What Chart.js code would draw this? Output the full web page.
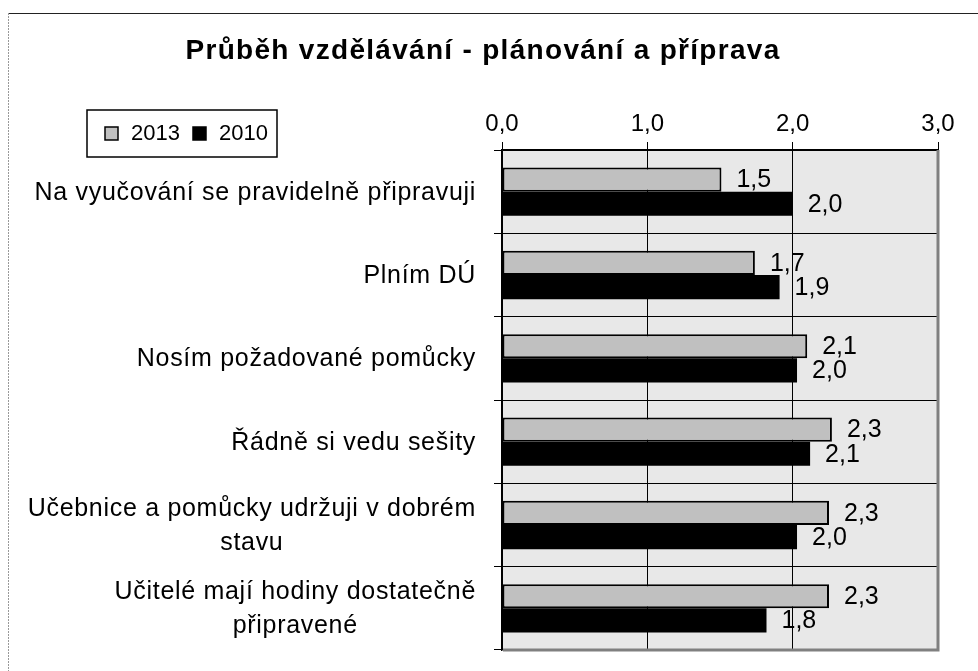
<!DOCTYPE html>
<html>
<head>
<meta charset="utf-8">
<script src="https://cdn.jsdelivr.net/npm/chart.js@4/dist/chart.umd.min.js"></script>
<style>
  html, body { margin: 0; padding: 0; background: #fff; }
  #wrap { width: 978px; height: 671px; position: relative; }
</style>
</head>
<body>
<div id="wrap"><canvas id="graf"></canvas></div>
<script>
// popisky kategorii (víceřádkové jako pole)
const kategorie = [
  ['Na vyučování se pravidelně připravuji'],
  ['Plním DÚ'],
  ['Nosím požadované pomůcky'],
  ['Řádně si vedu sešity'],
  ['Učebnice a pomůcky udržuji v dobrém', 'stavu'],
  ['Učitelé mají hodiny dostatečně', 'připravené']
];
const roky = ['2013', '2010'];
const hodnoty2013 = [1.51, 1.74, 2.10, 2.27, 2.25, 2.25];
const hodnoty2010 = [2.00, 1.91, 2.03, 2.12, 2.03, 1.82];
const osaX = [0, 1, 2, 3];

const titulek = 'Průběh vzdělávání - plánování a příprava';
const pismo = '"Liberation Sans", Arial, sans-serif';

const formatCisla = v => v.toFixed(1).replace('.', ',');

// pozadí, rámeček a titulek
const pozadiPlugin = {
  id: 'pozadi',
  beforeDraw(chart) {
    const ctx = chart.ctx;
    const a = chart.chartArea;
    ctx.save();
    ctx.fillStyle = '#fff';
    ctx.fillRect(0, 0, chart.width, chart.height);
    // vnější rámeček (jen horní a levá hrana je vidět)
    ctx.strokeStyle = '#222';
    ctx.lineWidth = 1;
    ctx.beginPath();
    ctx.moveTo(8, 13.5);
    ctx.lineTo(chart.width, 13.5);
    ctx.stroke();
    ctx.strokeStyle = '#999';
    ctx.setLineDash([2, 1]);
    ctx.beginPath();
    ctx.moveTo(8.5, 13);
    ctx.lineTo(8.5, chart.height);
    ctx.stroke();
    ctx.setLineDash([]);
    // plocha grafu
    ctx.fillStyle = '#e8e8e8';
    ctx.fillRect(a.left, a.top, a.right - a.left, a.bottom - a.top);
    // titulek
    ctx.fillStyle = '#000';
    ctx.font = 'bold 28px ' + pismo;
    ctx.letterSpacing = '1.3px';
    ctx.textAlign = 'center';
    ctx.textBaseline = 'alphabetic';
    ctx.fillText(titulek, 483, 59);
    ctx.letterSpacing = '0px';
    ctx.restore();
  },
  afterDatasetsDraw(chart) {
    const ctx = chart.ctx;
    ctx.save();
    ctx.font = '25px ' + pismo;
    ctx.fillStyle = '#000';
    ctx.textAlign = 'left';
    ctx.textBaseline = 'middle';
    chart.data.datasets.forEach((ds, i) => {
      chart.getDatasetMeta(i).data.forEach((el, j) => {
        ctx.fillText(formatCisla(ds.data[j]), el.x + 15, el.y + 1);
      });
    });
    ctx.restore();
  },
  afterDraw(chart) {
    const ctx = chart.ctx;
    const a = chart.chartArea;
    const y = chart.scales.y;
    ctx.save();
    // šedý okraj vpravo a dole
    ctx.strokeStyle = '#808080';
    ctx.lineWidth = 3;
    ctx.beginPath();
    ctx.moveTo(a.right, a.top);
    ctx.lineTo(a.right, a.bottom);
    ctx.lineTo(a.left + 1, a.bottom);
    ctx.stroke();
    // popisky kategorií
    ctx.fillStyle = '#000';
    ctx.font = '25px ' + pismo;
    ctx.letterSpacing = '0.7px';
    ctx.textAlign = 'center';
    ctx.textBaseline = 'middle';
    const vyskaRadku = 34;
    chart.data.labels.forEach((radky, i) => {
      const sirka = Math.max(...radky.map(r => ctx.measureText(r).width));
      const stred = y.getPixelForValue(i);
      const cx = a.left - 26 - sirka / 2;
      radky.forEach((r, k) => {
        const yy = stred + (k - (radky.length - 1) / 2) * vyskaRadku + 1;
        ctx.fillText(r, cx, yy);
      });
    });
    ctx.letterSpacing = '0px';
    // legenda
    ctx.strokeStyle = '#000';
    ctx.lineWidth = 1.5;
    ctx.strokeRect(87, 110, 190, 47);
    ctx.font = '22px ' + pismo;
    ctx.textAlign = 'left';
    let lx = 105;
    chart.data.datasets.forEach(ds => {
      ctx.fillStyle = ds.backgroundColor;
      ctx.fillRect(lx, 127, 13, 13);
      ctx.lineWidth = 1.5;
      ctx.strokeRect(lx, 127, 13, 13);
      ctx.fillStyle = '#000';
      ctx.fillText(ds.label, lx + 26, 134);
      lx += 88;
    });
    ctx.restore();
  }
};

new Chart(document.getElementById('graf'), {
  type: 'bar',
  data: {
    labels: kategorie,
    datasets: [
      {
        label: roky[0],
        data: hodnoty2013,
        backgroundColor: '#c0c0c0',
        borderColor: '#000',
        borderWidth: 2,
        borderSkipped: false
      },
      {
        label: roky[1],
        data: hodnoty2010,
        backgroundColor: '#000',
        borderWidth: 0
      }
    ]
  },
  options: {
    indexAxis: 'y',
    responsive: true,
    maintainAspectRatio: false,
    animation: false,
    layout: { padding: { left: 0, top: 90, right: 40, bottom: 21 } },
    datasets: { bar: { categoryPercentage: 0.58, barPercentage: 1 } },
    plugins: {
      legend: { display: false },
      title: { display: false },
      tooltip: { enabled: false }
    },
    scales: {
      x: {
        position: 'top',
        min: osaX[0],
        max: osaX[osaX.length - 1],
        afterBuildTicks: s => { s.ticks = osaX.map(v => ({ value: v })); },
        afterFit: s => { s.height = 60; },
        ticks: {
          callback: v => formatCisla(v),
          color: '#000',
          font: { family: pismo, size: 24 }
        },
        grid: { color: '#000', lineWidth: 1, tickLength: 8 },
        border: { color: '#000', width: 1.5 }
      },
      y: {
        afterFit: s => { s.width = 502; },
        ticks: { display: false },
        grid: { color: '#000', lineWidth: 1, tickLength: 8, offset: true },
        border: { color: '#000', width: 1.5 }
      }
    }
  },
  plugins: [pozadiPlugin]
});
</script>
</body>
</html>
